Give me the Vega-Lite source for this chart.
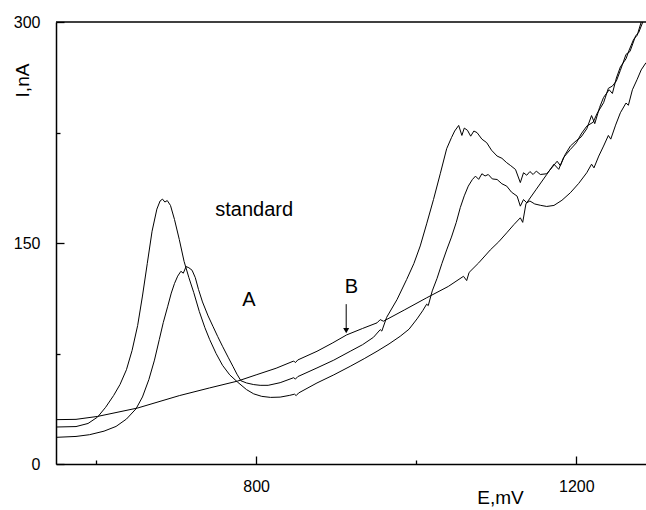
{
  "$schema": "https://vega.github.io/schema/vega-lite/v6.json",
  "autosize": {"type": "none"},
  "padding": {"left": 56, "top": 22, "right": 0, "bottom": 46},
  "width": 590,
  "height": 442,
  "background": "white",
  "config": {
    "view": {"stroke": null},
    "font": "Liberation Sans",
    "axis": {"grid": false, "domainColor": "black", "domainWidth": 1.5, "tickColor": "black", "tickWidth": 1.3, "labelColor": "black", "titleColor": "black", "labelFont": "Liberation Sans", "titleFont": "Liberation Sans", "labelFontSize": 16, "titleFontSize": 19, "titleFontWeight": "normal"}
  },
  "datasets": {
    "curves": [
      {"s": "standard", "E": 550, "I": 25.1},
      {"s": "standard", "E": 575, "I": 25.4},
      {"s": "standard", "E": 590, "I": 27.5},
      {"s": "standard", "E": 602, "I": 31.9},
      {"s": "standard", "E": 612, "I": 38.5},
      {"s": "standard", "E": 622, "I": 46.5},
      {"s": "standard", "E": 630, "I": 54},
      {"s": "standard", "E": 638, "I": 64},
      {"s": "standard", "E": 645, "I": 77},
      {"s": "standard", "E": 652, "I": 94},
      {"s": "standard", "E": 658, "I": 114},
      {"s": "standard", "E": 664, "I": 136},
      {"s": "standard", "E": 670, "I": 158},
      {"s": "standard", "E": 676, "I": 173},
      {"s": "standard", "E": 680, "I": 178.5},
      {"s": "standard", "E": 683, "I": 179.8},
      {"s": "standard", "E": 686, "I": 177.8},
      {"s": "standard", "E": 689, "I": 178.8},
      {"s": "standard", "E": 693, "I": 175.5},
      {"s": "standard", "E": 698, "I": 166},
      {"s": "standard", "E": 704, "I": 152.4},
      {"s": "standard", "E": 710, "I": 137.5},
      {"s": "standard", "E": 716, "I": 126.5},
      {"s": "standard", "E": 722, "I": 116.5},
      {"s": "standard", "E": 729, "I": 103.5},
      {"s": "standard", "E": 736, "I": 92.5},
      {"s": "standard", "E": 742, "I": 84.4},
      {"s": "standard", "E": 750, "I": 75},
      {"s": "standard", "E": 758, "I": 67},
      {"s": "standard", "E": 767, "I": 60.5},
      {"s": "standard", "E": 777, "I": 55.5},
      {"s": "standard", "E": 788, "I": 50.5},
      {"s": "standard", "E": 797, "I": 47.6},
      {"s": "standard", "E": 807, "I": 45.9},
      {"s": "standard", "E": 818, "I": 45.2},
      {"s": "standard", "E": 830, "I": 45.4},
      {"s": "standard", "E": 842, "I": 46.6},
      {"s": "standard", "E": 848, "I": 47.4},
      {"s": "standard", "E": 850, "I": 46.4},
      {"s": "standard", "E": 853, "I": 48.2},
      {"s": "standard", "E": 876, "I": 55},
      {"s": "standard", "E": 897, "I": 60.5},
      {"s": "standard", "E": 917.5, "I": 66.3},
      {"s": "standard", "E": 935, "I": 71.5},
      {"s": "standard", "E": 951, "I": 76.5},
      {"s": "standard", "E": 966, "I": 81.5},
      {"s": "standard", "E": 980, "I": 86.7},
      {"s": "standard", "E": 991, "I": 91.5},
      {"s": "standard", "E": 1001, "I": 98.5},
      {"s": "standard", "E": 1008, "I": 104},
      {"s": "standard", "E": 1013, "I": 108.5},
      {"s": "standard", "E": 1015, "I": 107.5},
      {"s": "standard", "E": 1020, "I": 117.5},
      {"s": "standard", "E": 1026, "I": 126},
      {"s": "standard", "E": 1032, "I": 136},
      {"s": "standard", "E": 1038, "I": 145.3},
      {"s": "standard", "E": 1044, "I": 154},
      {"s": "standard", "E": 1050, "I": 164},
      {"s": "standard", "E": 1055, "I": 174},
      {"s": "standard", "E": 1060, "I": 182},
      {"s": "standard", "E": 1065, "I": 188.6},
      {"s": "standard", "E": 1070, "I": 193},
      {"s": "standard", "E": 1074, "I": 195.4},
      {"s": "standard", "E": 1078, "I": 193.2},
      {"s": "standard", "E": 1082, "I": 197},
      {"s": "standard", "E": 1086, "I": 195.5},
      {"s": "standard", "E": 1090, "I": 196.5},
      {"s": "standard", "E": 1095, "I": 193.5},
      {"s": "standard", "E": 1101, "I": 193.1},
      {"s": "standard", "E": 1107, "I": 190.2},
      {"s": "standard", "E": 1113, "I": 188.6},
      {"s": "standard", "E": 1119, "I": 184.5},
      {"s": "standard", "E": 1126, "I": 181.8},
      {"s": "standard", "E": 1130, "I": 175},
      {"s": "standard", "E": 1134, "I": 179.5},
      {"s": "standard", "E": 1138, "I": 177.3},
      {"s": "standard", "E": 1142, "I": 178.5},
      {"s": "standard", "E": 1148, "I": 176.5},
      {"s": "standard", "E": 1155, "I": 175.6},
      {"s": "standard", "E": 1163, "I": 174.8},
      {"s": "standard", "E": 1172, "I": 175.5},
      {"s": "standard", "E": 1182, "I": 179},
      {"s": "standard", "E": 1192.5, "I": 184.1},
      {"s": "standard", "E": 1203, "I": 190.5},
      {"s": "standard", "E": 1213, "I": 197.7},
      {"s": "standard", "E": 1219, "I": 203.5},
      {"s": "standard", "E": 1222, "I": 201},
      {"s": "standard", "E": 1228, "I": 209},
      {"s": "standard", "E": 1234, "I": 215.8},
      {"s": "standard", "E": 1240, "I": 223},
      {"s": "standard", "E": 1243, "I": 220.5},
      {"s": "standard", "E": 1249, "I": 230},
      {"s": "standard", "E": 1255, "I": 238.4},
      {"s": "standard", "E": 1262, "I": 245},
      {"s": "standard", "E": 1265, "I": 243.5},
      {"s": "standard", "E": 1270, "I": 254},
      {"s": "standard", "E": 1276, "I": 261.1},
      {"s": "standard", "E": 1281, "I": 267.5},
      {"s": "standard", "E": 1287, "I": 272.4},
      {"s": "A", "E": 550, "I": 18.1},
      {"s": "A", "E": 575, "I": 18.7},
      {"s": "A", "E": 592, "I": 19.9},
      {"s": "A", "E": 610, "I": 22.3},
      {"s": "A", "E": 625, "I": 25.5},
      {"s": "A", "E": 638, "I": 30.5},
      {"s": "A", "E": 650, "I": 37.5},
      {"s": "A", "E": 658, "I": 45.5},
      {"s": "A", "E": 666, "I": 57.3},
      {"s": "A", "E": 673, "I": 70.5},
      {"s": "A", "E": 679, "I": 84.4},
      {"s": "A", "E": 684, "I": 96},
      {"s": "A", "E": 689.6, "I": 107.1},
      {"s": "A", "E": 694, "I": 116},
      {"s": "A", "E": 698, "I": 122.5},
      {"s": "A", "E": 702, "I": 127.5},
      {"s": "A", "E": 706, "I": 130.8},
      {"s": "A", "E": 709, "I": 129.5},
      {"s": "A", "E": 712.5, "I": 134},
      {"s": "A", "E": 716, "I": 133.2},
      {"s": "A", "E": 720, "I": 131.5},
      {"s": "A", "E": 724, "I": 126.5},
      {"s": "A", "E": 728, "I": 118.5},
      {"s": "A", "E": 733, "I": 110},
      {"s": "A", "E": 740, "I": 100.5},
      {"s": "A", "E": 746, "I": 93.5},
      {"s": "A", "E": 752, "I": 86.5},
      {"s": "A", "E": 758, "I": 79.9},
      {"s": "A", "E": 765, "I": 72.5},
      {"s": "A", "E": 771, "I": 66.3},
      {"s": "A", "E": 776, "I": 61},
      {"s": "A", "E": 781, "I": 56.5},
      {"s": "A", "E": 788, "I": 55},
      {"s": "A", "E": 797, "I": 53.9},
      {"s": "A", "E": 805, "I": 53.4},
      {"s": "A", "E": 815, "I": 53.4},
      {"s": "A", "E": 830, "I": 55.2},
      {"s": "A", "E": 847, "I": 58.6},
      {"s": "A", "E": 849, "I": 57.6},
      {"s": "A", "E": 852, "I": 59.3},
      {"s": "A", "E": 876, "I": 65.2},
      {"s": "A", "E": 897, "I": 70.5},
      {"s": "A", "E": 917.5, "I": 76.5},
      {"s": "A", "E": 933, "I": 81},
      {"s": "A", "E": 946.6, "I": 86},
      {"s": "A", "E": 955, "I": 91.2},
      {"s": "A", "E": 957, "I": 90.2},
      {"s": "A", "E": 963, "I": 99.5},
      {"s": "A", "E": 976, "I": 111.6},
      {"s": "A", "E": 988, "I": 125.2},
      {"s": "A", "E": 997, "I": 136},
      {"s": "A", "E": 1005, "I": 148},
      {"s": "A", "E": 1013, "I": 163},
      {"s": "A", "E": 1021.6, "I": 179.6},
      {"s": "A", "E": 1030, "I": 197},
      {"s": "A", "E": 1038, "I": 214},
      {"s": "A", "E": 1044, "I": 221.5},
      {"s": "A", "E": 1048, "I": 226},
      {"s": "A", "E": 1053, "I": 229.8},
      {"s": "A", "E": 1057, "I": 223},
      {"s": "A", "E": 1060, "I": 228},
      {"s": "A", "E": 1064, "I": 226.5},
      {"s": "A", "E": 1068, "I": 222.5},
      {"s": "A", "E": 1072, "I": 226},
      {"s": "A", "E": 1076, "I": 224.9},
      {"s": "A", "E": 1082, "I": 220.5},
      {"s": "A", "E": 1088, "I": 218.1},
      {"s": "A", "E": 1094, "I": 213},
      {"s": "A", "E": 1101, "I": 209},
      {"s": "A", "E": 1107, "I": 207.5},
      {"s": "A", "E": 1113, "I": 204.5},
      {"s": "A", "E": 1118, "I": 202.5},
      {"s": "A", "E": 1124, "I": 199.9},
      {"s": "A", "E": 1130, "I": 191},
      {"s": "A", "E": 1134, "I": 197.7},
      {"s": "A", "E": 1138, "I": 196},
      {"s": "A", "E": 1142, "I": 198.5},
      {"s": "A", "E": 1146, "I": 196.5},
      {"s": "A", "E": 1150, "I": 198.8},
      {"s": "A", "E": 1155, "I": 196.5},
      {"s": "A", "E": 1163, "I": 197},
      {"s": "A", "E": 1170, "I": 201.5},
      {"s": "A", "E": 1176, "I": 205.5},
      {"s": "A", "E": 1180, "I": 202.5},
      {"s": "A", "E": 1186, "I": 210},
      {"s": "A", "E": 1192.5, "I": 215.8},
      {"s": "A", "E": 1200, "I": 219.5},
      {"s": "A", "E": 1206, "I": 222},
      {"s": "A", "E": 1213, "I": 227.5},
      {"s": "A", "E": 1219, "I": 236.5},
      {"s": "A", "E": 1223, "I": 231},
      {"s": "A", "E": 1229, "I": 242},
      {"s": "A", "E": 1234, "I": 248.8},
      {"s": "A", "E": 1241, "I": 254},
      {"s": "A", "E": 1245, "I": 251.5},
      {"s": "A", "E": 1250, "I": 262},
      {"s": "A", "E": 1255, "I": 269.5},
      {"s": "A", "E": 1262, "I": 275},
      {"s": "A", "E": 1266, "I": 281},
      {"s": "A", "E": 1271.6, "I": 288.3},
      {"s": "A", "E": 1276, "I": 291},
      {"s": "A", "E": 1281, "I": 300},
      {"s": "B", "E": 550, "I": 30.1},
      {"s": "B", "E": 575, "I": 30.3},
      {"s": "B", "E": 602, "I": 32.3},
      {"s": "B", "E": 652, "I": 38},
      {"s": "B", "E": 704, "I": 46.4},
      {"s": "B", "E": 741.6, "I": 51.6},
      {"s": "B", "E": 777, "I": 56.3},
      {"s": "B", "E": 800, "I": 60.5},
      {"s": "B", "E": 825, "I": 65},
      {"s": "B", "E": 847, "I": 69.9},
      {"s": "B", "E": 849, "I": 68.8},
      {"s": "B", "E": 852, "I": 70.6},
      {"s": "B", "E": 876, "I": 76.5},
      {"s": "B", "E": 895, "I": 82},
      {"s": "B", "E": 913, "I": 87.6},
      {"s": "B", "E": 933, "I": 92},
      {"s": "B", "E": 951, "I": 95.8},
      {"s": "B", "E": 955, "I": 98},
      {"s": "B", "E": 959, "I": 96.9},
      {"s": "B", "E": 985, "I": 104.5},
      {"s": "B", "E": 1013, "I": 112.8},
      {"s": "B", "E": 1040, "I": 120.5},
      {"s": "B", "E": 1059, "I": 127.4},
      {"s": "B", "E": 1063, "I": 124.5},
      {"s": "B", "E": 1066, "I": 130},
      {"s": "B", "E": 1078, "I": 136.5},
      {"s": "B", "E": 1092.5, "I": 145.3},
      {"s": "B", "E": 1103, "I": 150.8},
      {"s": "B", "E": 1113, "I": 156.9},
      {"s": "B", "E": 1122, "I": 162.5},
      {"s": "B", "E": 1130, "I": 167.1},
      {"s": "B", "E": 1133, "I": 164},
      {"s": "B", "E": 1137, "I": 176.5},
      {"s": "B", "E": 1150, "I": 186.5},
      {"s": "B", "E": 1163, "I": 196.5},
      {"s": "B", "E": 1172, "I": 203.5},
      {"s": "B", "E": 1178, "I": 200},
      {"s": "B", "E": 1184, "I": 208},
      {"s": "B", "E": 1192.5, "I": 213.5},
      {"s": "B", "E": 1200, "I": 218},
      {"s": "B", "E": 1206, "I": 224},
      {"s": "B", "E": 1213, "I": 229.3},
      {"s": "B", "E": 1221, "I": 232},
      {"s": "B", "E": 1226, "I": 238},
      {"s": "B", "E": 1234, "I": 245.2},
      {"s": "B", "E": 1240, "I": 255},
      {"s": "B", "E": 1245, "I": 256.5},
      {"s": "B", "E": 1250, "I": 260},
      {"s": "B", "E": 1255, "I": 267.2},
      {"s": "B", "E": 1262, "I": 278},
      {"s": "B", "E": 1267, "I": 280},
      {"s": "B", "E": 1274, "I": 290.5},
      {"s": "B", "E": 1278, "I": 293},
      {"s": "B", "E": 1283, "I": 300}
    ],
    "labels": [
      {"text": "standard", "E": 797.5, "I": 172.2},
      {"text": "A", "E": 791, "I": 111},
      {"text": "B", "E": 919, "I": 120}
    ],
    "arrow": [
      {"E": 912.5, "I0": 108.5, "I1": 92, "Ihead": 90.5}
    ]
  },
  "layer": [
    {
      "data": {"name": "curves"},
      "mark": {"type": "line", "color": "black", "strokeWidth": 1, "clip": true},
      "encoding": {
        "x": {
          "field": "E", "type": "quantitative",
          "scale": {"domain": [550, 1287], "nice": false, "zero": false},
          "axis": {
            "values": [600, 800, 1000, 1200],
            "labelExpr": "datum.value % 400 == 0 ? datum.label : ''",
            "format": "d",
            "tickSize": {"condition": {"test": "datum.value % 400 == 0", "value": -8}, "value": -4},
            "labelPadding": 30,
            "title": "E,mV",
            "titleX": 444,
            "titleY": 33,
            "titleAlign": "center",
            "titleBaseline": "middle",
            "labelBaseline": "middle",
            "labelFlush": false,
            "labelOverlap": false
          }
        },
        "y": {
          "field": "I", "type": "quantitative",
          "scale": {"domain": [0, 300], "nice": false},
          "axis": {
            "values": [0, 75, 150, 225, 300],
            "labelExpr": "datum.value % 150 == 0 ? datum.label : ''",
            "tickSize": {"condition": {"test": "datum.value % 150 == 0", "value": -8}, "value": -4},
            "labelPadding": 24,
            "title": "I,nA",
            "titleX": -34,
            "titleY": 58,
            "titleAngle": -90,
            "titleAlign": "center",
            "titleBaseline": "middle",
            "labelBaseline": "middle",
            "labelFlush": false,
            "labelOverlap": false
          }
        },
        "detail": {"field": "s", "type": "nominal"}
      }
    },
    {
      "data": {"values": [{"v": 300}]},
      "mark": {"type": "rule", "color": "black", "strokeWidth": 1.5},
      "encoding": {"y": {"field": "v", "type": "quantitative"}}
    },
    {
      "data": {"name": "labels"},
      "mark": {"type": "text", "font": "Liberation Sans", "fontSize": 20, "color": "black", "align": "center", "baseline": "middle"},
      "encoding": {
        "x": {"field": "E", "type": "quantitative"},
        "y": {"field": "I", "type": "quantitative"},
        "text": {"field": "text"}
      }
    },
    {
      "data": {"name": "arrow"},
      "mark": {"type": "rule", "color": "black", "strokeWidth": 1},
      "encoding": {
        "x": {"field": "E", "type": "quantitative"},
        "y": {"field": "I0", "type": "quantitative"},
        "y2": {"field": "I1"}
      }
    },
    {
      "data": {"name": "arrow"},
      "mark": {"type": "point", "shape": "triangle-down", "filled": true, "color": "black", "size": 36, "opacity": 1},
      "encoding": {
        "x": {"field": "E", "type": "quantitative"},
        "y": {"field": "Ihead", "type": "quantitative"}
      }
    }
  ]
}
